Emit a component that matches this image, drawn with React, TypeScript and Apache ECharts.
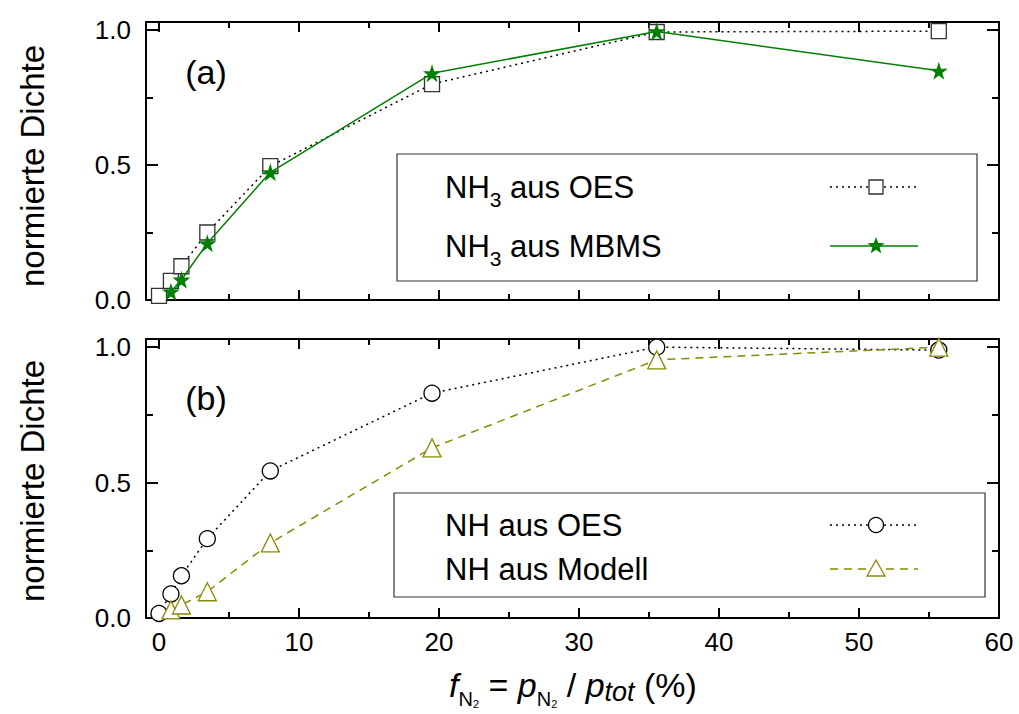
import React, { useEffect, useRef } from "react";
import * as echarts from "echarts";

// ---- tick values ----
const xTicks = [0, 10, 20, 30, 40, 50, 60];
const xMinorTicks = [5, 15, 25, 35, 45, 55];
const yTicks = [0, 0.5, 1.0];
const yMinorTicks = [0.25, 0.75];

// ---- panel (a) ----
const xOESa = [0, 0.85, 1.6, 3.45, 7.95, 19.5, 35.55, 55.7];
const nh3OES = [0.015, 0.071, 0.125, 0.25, 0.496, 0.8, 0.993, 0.996];
const xMBMS = [0.85, 1.6, 3.45, 7.95, 19.5, 35.55, 55.7];
const nh3MBMS = [0.031, 0.075, 0.21, 0.473, 0.84, 0.995, 0.849];

// ---- panel (b) ----
const xOESb = [0, 0.85, 1.6, 3.45, 7.95, 19.5, 35.55, 55.7];
const nhOES = [0.017, 0.089, 0.156, 0.293, 0.543, 0.83, 1.0, 0.989];
const xModell = [0.85, 1.6, 3.45, 7.95, 19.5, 35.55, 55.7];
const nhModell = [0.03, 0.048, 0.097, 0.277, 0.628, 0.953, 1.0];

const seriesNames = ["NH3 aus OES", "NH3 aus MBMS", "NH aus OES", "NH aus Modell"];

const FONT = "'Liberation Sans', Arial, sans-serif";
const X_MIN = -0.93;
const X_MAX = 60;
const Y_MIN = 0;
const Y_MAX = 1.03;
const GREEN = "#008000";
const OLIVE = "#8a8a00";

const zip = (xs: number[], ys: number[]) => xs.map((x, i) => [x, ys[i]]);

const lineStyleAxis = { color: "#000", width: 2 };

function xAxesFor(gridIndex: number, labels: boolean) {
  const base = { type: "value", gridIndex, min: X_MIN, max: X_MAX, splitLine: { show: false } };
  const major = (position: string, withLine: boolean, withLabels: boolean) => ({
    ...base,
    position,
    axisLine: { show: withLine, onZero: false, lineStyle: lineStyleAxis },
    axisTick: { show: true, inside: true, length: 10, customValues: xTicks, lineStyle: lineStyleAxis },
    axisLabel: {
      show: withLabels,
      customValues: xTicks,
      fontSize: 26,
      color: "#000",
      margin: 11,
      fontFamily: FONT,
    },
  });
  const minor = (position: string) => ({
    ...base,
    position,
    axisLine: { show: false, onZero: false },
    axisTick: { show: true, inside: true, length: 6, customValues: xMinorTicks, lineStyle: lineStyleAxis },
    axisLabel: { show: false },
  });
  return [major("bottom", true, labels), minor("bottom"), major("top", true, false), minor("top")];
}

function yAxesFor(gridIndex: number) {
  const base = { type: "value", gridIndex, min: Y_MIN, max: Y_MAX, splitLine: { show: false } };
  const major = (position: string, withLabels: boolean) => ({
    ...base,
    position,
    axisLine: { show: true, onZero: false, lineStyle: lineStyleAxis },
    axisTick: { show: true, inside: true, length: 12, customValues: yTicks, lineStyle: lineStyleAxis },
    axisLabel: {
      show: withLabels,
      customValues: yTicks,
      fontSize: 26,
      color: "#000",
      margin: 15,
      fontFamily: FONT,
      formatter: (v: number) => v.toFixed(1),
    },
  });
  const minor = (position: string) => ({
    ...base,
    position,
    axisLine: { show: false, onZero: false },
    axisTick: { show: true, inside: true, length: 7, customValues: yMinorTicks, lineStyle: lineStyleAxis },
    axisLabel: { show: false },
  });
  return [major("left", true), minor("left"), major("right", false), minor("right")];
}

function starPoints(cx: number, cy: number, R: number, r: number) {
  const pts: number[][] = [];
  for (let i = 0; i < 10; i++) {
    const a = -Math.PI / 2 + (i * Math.PI) / 5;
    const rad = i % 2 === 0 ? R : r;
    pts.push([cx + rad * Math.cos(a), cy + rad * Math.sin(a)]);
  }
  return pts;
}

const richLegend = {
  m: { fontSize: 31, fontFamily: FONT, color: "#000" },
  s: { fontSize: 21, fontFamily: FONT, color: "#000", padding: [24, 0, 0, 0] },
};

function legendText(label: string, x: number, y: number) {
  // turn "NH3" into NH + subscript 3
  const t = label.startsWith("NH3")
    ? "{m|NH}{s|3}{m|" + label.slice(3) + "}"
    : "{m|" + label + "}";
  return {
    type: "text",
    x,
    y,
    z: 20,
    style: {
      text: t,
      rich: richLegend,
      fill: "#000",
      textVerticalAlign: "middle",
      verticalAlign: "middle",
    },
  };
}

function buildOption() {
  const LX1 = 830;
  const LX2 = 918;
  const LM = 876;
  const rowA1 = 187;
  const rowA2 = 246;
  const rowB1 = 525;
  const rowB2 = 569;

  const graphic: any[] = [
    // legend (a)
    { type: "rect", z: 10, shape: { x: 397, y: 154, width: 580, height: 127 }, style: { fill: "#fff", stroke: "#333", lineWidth: 1.2 } },
    legendText(seriesNames[0], 445, rowA1),
    legendText(seriesNames[1], 445, rowA2),
    { type: "line", z: 11, shape: { x1: LX1, y1: rowA1, x2: LX2, y2: rowA1 }, style: { stroke: "#000", lineWidth: 1.5, lineDash: [2, 4] } },
    { type: "rect", z: 12, shape: { x: LM - 7, y: rowA1 - 7, width: 14, height: 14 }, style: { fill: "#fff", stroke: "#333", lineWidth: 1.3 } },
    { type: "line", z: 11, shape: { x1: LX1, y1: rowA2, x2: LX2, y2: rowA2 }, style: { stroke: GREEN, lineWidth: 1.5 } },
    { type: "polygon", z: 12, shape: { points: starPoints(LM, rowA2, 9, 3.8) }, style: { fill: GREEN } },
    // legend (b)
    { type: "rect", z: 10, shape: { x: 394, y: 493, width: 591, height: 104 }, style: { fill: "#fff", stroke: "#333", lineWidth: 1.2 } },
    legendText(seriesNames[2], 445, rowB1),
    legendText(seriesNames[3], 445, rowB2),
    { type: "line", z: 11, shape: { x1: LX1, y1: rowB1, x2: LX2, y2: rowB1 }, style: { stroke: "#000", lineWidth: 1.5, lineDash: [2, 4] } },
    { type: "circle", z: 12, shape: { cx: LM, cy: rowB1, r: 7.5 }, style: { fill: "#fff", stroke: "#000", lineWidth: 1.3 } },
    { type: "line", z: 11, shape: { x1: LX1, y1: rowB2, x2: LX2, y2: rowB2 }, style: { stroke: OLIVE, lineWidth: 1.5, lineDash: [8, 6] } },
    {
      type: "polygon",
      z: 12,
      shape: { points: [[LM, rowB2 - 9], [LM + 9, rowB2 + 7], [LM - 9, rowB2 + 7]] },
      style: { fill: "#fff", stroke: OLIVE, lineWidth: 1.3 },
    },
    // panel labels
    { type: "text", z: 20, x: 206, y: 72, style: { text: "(a)", fontSize: 34, fontFamily: FONT, fill: "#000", textAlign: "center", textVerticalAlign: "middle" } },
    { type: "text", z: 20, x: 206, y: 398, style: { text: "(b)", fontSize: 34, fontFamily: FONT, fill: "#000", textAlign: "center", textVerticalAlign: "middle" } },
    // y titles
    { type: "text", z: 20, x: 32, y: 166, rotation: Math.PI / 2, style: { text: "normierte Dichte", fontSize: 33, fontFamily: FONT, fill: "#000", textAlign: "center", textVerticalAlign: "middle" } },
    { type: "text", z: 20, x: 32, y: 481, rotation: Math.PI / 2, style: { text: "normierte Dichte", fontSize: 33, fontFamily: FONT, fill: "#000", textAlign: "center", textVerticalAlign: "middle" } },
    // x title
    {
      type: "text",
      z: 20,
      x: 573,
      y: 685,
      style: {
        text: "{i|f}{s|N}{ss|2}{n| = }{i|p}{s|N}{ss|2}{n| / }{i|p}{it|tot}{n| (%)}",
        textAlign: "center",
        textVerticalAlign: "middle",
        rich: {
          i: { fontSize: 34, fontStyle: "italic", fontFamily: FONT, color: "#000" },
          n: { fontSize: 34, fontFamily: FONT, color: "#000" },
          s: { fontSize: 20, fontFamily: FONT, color: "#000", padding: [28, 0, 0, 0] },
          ss: { fontSize: 11, fontFamily: FONT, color: "#000", padding: [37, 0, 0, 0] },
          it: { fontSize: 27, fontStyle: "italic", fontFamily: FONT, color: "#000", padding: [14, 0, 0, 0] },
        },
      },
    },
  ];

  return {
    animation: false,
    backgroundColor: "#fff",
    grid: [
      { left: 146, top: 22, width: 853, height: 278 },
      { left: 146, top: 339, width: 853, height: 279 },
    ],
    xAxis: [...xAxesFor(0, false), ...xAxesFor(1, true)],
    yAxis: [...yAxesFor(0), ...yAxesFor(1)],
    graphic,
    series: [
      {
        name: seriesNames[0],
        type: "line",
        xAxisIndex: 0,
        yAxisIndex: 0,
        data: zip(xOESa, nh3OES),
        symbol: "rect",
        symbolSize: 15,
        lineStyle: { color: "#000", width: 1.5, type: [2, 4] },
        itemStyle: { color: "#fff", borderColor: "#333", borderWidth: 1.3 },
        z: 3,
      },
      {
        name: seriesNames[1],
        type: "line",
        xAxisIndex: 0,
        yAxisIndex: 0,
        data: zip(xMBMS, nh3MBMS),
        symbol: "path://M50,0 L61.8,36.2 L100,36.2 L69.1,58.8 L80.9,95.1 L50,72.7 L19.1,95.1 L30.9,58.8 L0,36.2 L38.2,36.2 Z",
        symbolSize: 18,
        lineStyle: { color: GREEN, width: 1.5 },
        itemStyle: { color: GREEN, borderWidth: 0 },
        z: 4,
      },
      {
        name: seriesNames[2],
        type: "line",
        xAxisIndex: 4,
        yAxisIndex: 4,
        data: zip(xOESb, nhOES),
        symbol: "circle",
        symbolSize: 16,
        lineStyle: { color: "#000", width: 1.5, type: [2, 4] },
        itemStyle: { color: "#fff", borderColor: "#000", borderWidth: 1.3 },
        z: 3,
      },
      {
        name: seriesNames[3],
        type: "line",
        xAxisIndex: 4,
        yAxisIndex: 4,
        data: zip(xModell, nhModell),
        symbol: "triangle",
        symbolSize: 18,
        lineStyle: { color: OLIVE, width: 1.5, type: [8, 6] },
        itemStyle: { color: "#fff", borderColor: OLIVE, borderWidth: 1.3 },
        z: 4,
      },
    ],
  };
}

export default function App() {
  const ref = useRef<HTMLDivElement>(null);
  useEffect(() => {
    const chart = echarts.init(ref.current!, null, { renderer: "svg" });
    chart.setOption(buildOption() as any);
    return () => chart.dispose();
  }, []);
  return (
    <div
      ref={ref}
      style={{ position: "absolute", left: 0, top: 0, width: 1019, height: 714, background: "#fff" }}
    />
  );
}
